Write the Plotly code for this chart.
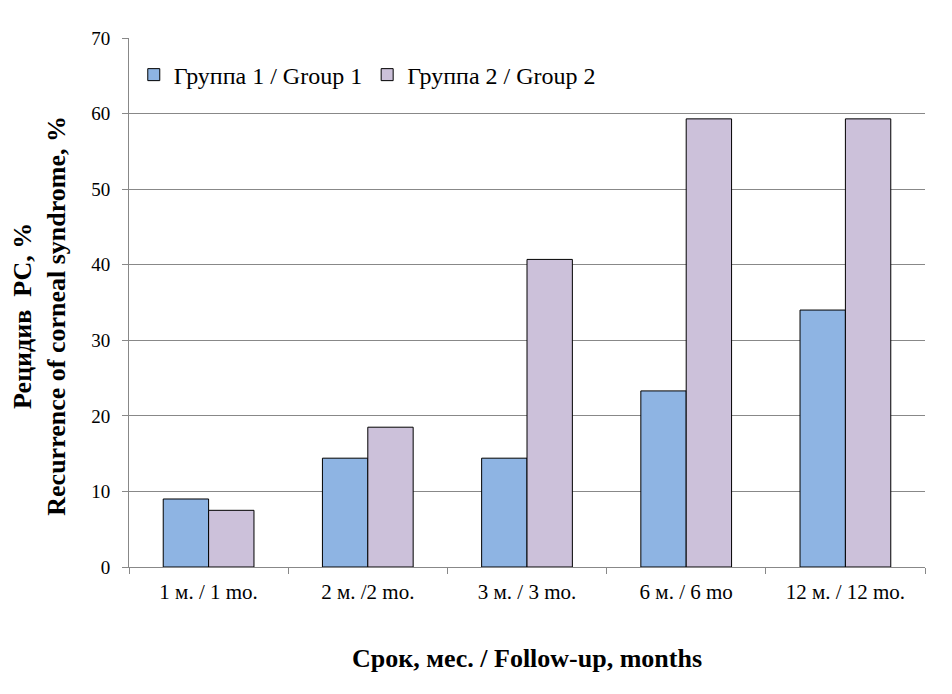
import plotly.graph_objects as go

categories = ["1 м. / 1 mo.", "2 м. /2 mo.", "3 м. / 3 mo.", "6 м. / 6 mo", "12 м. / 12 mo."]
group1 = [9.0, 14.4, 14.4, 23.3, 34.0]
group2 = [7.5, 18.5, 40.7, 59.3, 59.3]
names = ["Группа 1 / Group 1", "Группа 2 / Group 2"]
colors = ["#8EB4E3", "#CCC1DA"]
y_ticks = [0, 10, 20, 30, 40, 50, 60, 70]

FONT = "Liberation Serif, Times New Roman, serif"

fig = go.Figure()
for vals, name, col in zip([group1, group2], names, colors):
    fig.add_trace(go.Bar(
        x=categories, y=vals, name=name,
        marker=dict(color=col, line=dict(color="#000000", width=1)),
    ))

fig.update_layout(
    width=936, height=678,
    margin=dict(l=121, r=19, t=30, b=119),
    paper_bgcolor="white", plot_bgcolor="white",
    barmode="group", bargap=0.43, bargroupgap=0,
    font=dict(family=FONT, color="#000000", size=19),
    legend=dict(
        orientation="h", x=0.006, y=0.93, xanchor="left", yanchor="middle",
        font=dict(family=FONT, size=24), bgcolor="rgba(0,0,0,0)",
        tracegroupgap=0,
    ),
    xaxis=dict(
        type="category", tickson="boundaries", ticks="outside", ticklen=6,
        tickcolor="#888888", showline=True, linecolor="#888888", linewidth=1,
        showgrid=False, tickfont=dict(size=21), ticklabelstandoff=6,
        title=dict(text="<b>Срок, мес. / Follow-up, months</b>", font=dict(size=26), standoff=45),
    ),
    yaxis=dict(
        range=[0, 70], tickvals=y_ticks, ticks="outside", ticklen=6,
        tickcolor="#888888", showline=True, linecolor="#888888", linewidth=1,
        showgrid=True, gridcolor="#888888", gridwidth=1, zeroline=False,
        tickfont=dict(size=19), ticklabelstandoff=8,
    ),
    annotations=[dict(
        text="<b>Рецидив  РС, %<br>Recurrence of corneal syndrome, %</b>",
        xref="paper", yref="paper", x=0, y=0.475, xanchor="center", yanchor="middle",
        xshift=-89, textangle=-90, showarrow=False, font=dict(family=FONT, size=26),
    )],
)

fig.write_html("out.html")
